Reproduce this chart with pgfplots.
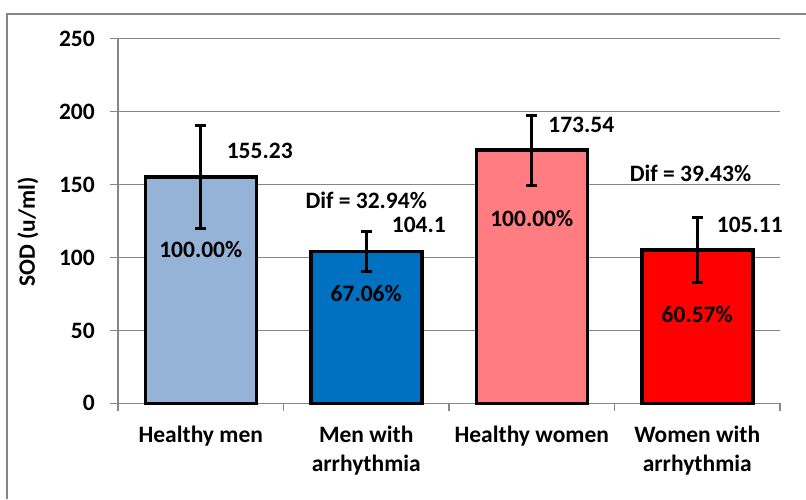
\documentclass[border=0pt]{standalone}
\usepackage{fontspec}
\setmainfont{Carlito}
\usepackage{pgfplots}
\pgfplotsset{compat=1.18}
\definecolor{gridgray}{HTML}{868686}
\definecolor{c1}{HTML}{95B3D7}
\definecolor{c2}{HTML}{0070C0}
\definecolor{c3}{HTML}{FF7C80}
\definecolor{c4}{HTML}{FF0000}
\newcommand\lf{\fontsize{23.5}{29}\selectfont\bfseries}
\begin{document}
\begin{tikzpicture}[x=1pt,y=1pt]
\useasboundingbox (0,0) rectangle (806,499);
\draw[gridgray, line width=1.5pt] (7,0) -- (7,485) -- (806,485);
\node[rotate=90, font=\lf] at (28,267) {SOD (u/ml)};
\begin{axis}[
  at={(118pt,95.7pt)}, anchor=south west,
  scale only axis, width=662pt, height=364.6pt,
  xmin=-0.5, xmax=3.5, ymin=0, ymax=250,
  ytick={0,50,...,250},
  xtick={-0.5,0.5,1.5,2.5,3.5},
  xticklabels={{},{},{},{},{}},
  extra x ticks={0,1,2,3},
  extra x tick labels={Healthy men, Men with\\arrhythmia, Healthy women, Women with\\arrhythmia},
  extra x tick style={major tick length=0pt, xtick style={draw=none}},
  axis x line*=bottom, axis y line*=left,
  axis line style={gridgray, line width=1.5pt, -},
  ymajorgrids, grid style={gridgray, line width=1.5pt},
  tick align=outside,
  major tick length=8pt,
  tick style={gridgray, line width=1.5pt},
  /pgf/number format/assume math mode=true,
  yticklabel style={font=\lf, anchor=east, inner sep=0pt, xshift=-15pt},
  xticklabel style={font=\lf, align=center, anchor=north, inner sep=0pt, yshift=-22.7pt},
  every node near coord/.style={font=\lf, black, anchor=west},
  clip=false,
]
\addplot[ybar, bar width=111pt, bar shift=0pt, fill=c1, draw=black, line width=3.5pt,
  nodes near coords={155.23},
  every node near coord/.append style={xshift=21pt, yshift=26pt},
  error bars/.cd, y dir=both, y explicit,
  error bar style={line width=3pt, black},
  error mark options={rotate=90, mark size=5.5pt, line width=3pt, black}]
  coordinates {(0,155.23) +- (0,35.3)};
\addplot[ybar, bar width=111pt, bar shift=0pt, fill=c2, draw=black, line width=3.5pt,
  nodes near coords={104.1},
  every node near coord/.append style={xshift=20.5pt, yshift=27pt},
  error bars/.cd, y dir=both, y explicit,
  error bar style={line width=3pt, black},
  error mark options={rotate=90, mark size=5.5pt, line width=3pt, black}]
  coordinates {(1,104.1) +- (0,14)};
\addplot[ybar, bar width=111pt, bar shift=0pt, fill=c3, draw=black, line width=3.5pt,
  nodes near coords={173.54},
  every node near coord/.append style={xshift=11.5pt, yshift=25pt},
  error bars/.cd, y dir=both, y explicit,
  error bar style={line width=3pt, black},
  error mark options={rotate=90, mark size=5.5pt, line width=3pt, black}]
  coordinates {(2,173.54) +- (0,24)};
\addplot[ybar, bar width=111pt, bar shift=0pt, fill=c4, draw=black, line width=3.5pt,
  nodes near coords={105.11},
  every node near coord/.append style={xshift=14.5pt, yshift=25.5pt},
  error bars/.cd, y dir=both, y explicit,
  error bar style={line width=3pt, black},
  error mark options={rotate=90, mark size=5.5pt, line width=3pt, black}]
  coordinates {(3,105.11) +- (0,22.4)};
\node[font=\lf] at (axis cs:0,105.8) {100.00\%};
\node[font=\lf] at (axis cs:1,75.4) {67.06\%};
\node[font=\lf] at (axis cs:2,126.8) {100.00\%};
\node[font=\lf] at (axis cs:3,60.8) {60.57\%};
\node[font=\lf] at (axis cs:1,139.4) {Dif = 32.94\%};
\node[font=\lf] at (axis cs:2.959,157.7) {Dif = 39.43\%};
\end{axis}
\end{tikzpicture}
\end{document}
